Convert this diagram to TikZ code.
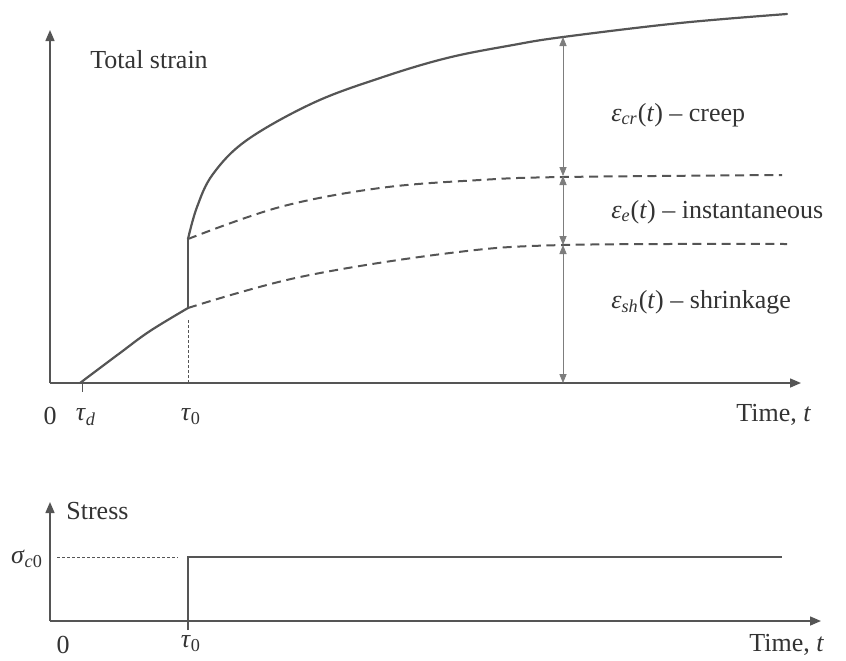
\documentclass[tikz,border=0pt]{standalone}
\usepackage{fontspec}
\setmainfont{Liberation Serif}
\usetikzlibrary{arrows.meta}
\definecolor{ink}{RGB}{85,85,85}
\definecolor{dimc}{RGB}{125,125,125}
\newcommand\gsym[2]{\textit{#1}\textsubscript{#2}}
\tikzset{
  axis/.style={draw=ink,line width=0.75pt,-{Triangle[length=5.5pt,width=4.5pt]}},
  curve/.style={draw=ink,line width=1.1pt,line cap=round},
  dcurve/.style={draw=ink,line width=1pt,dash pattern=on 4.5pt off 2.8pt},
  guide/.style={draw=ink,line width=0.4pt,dash pattern=on 1.5pt off 1pt},
  dimline/.style={draw=dimc,line width=0.4pt,{Triangle[length=4.5pt,width=3.6pt]}-{Triangle[length=4.5pt,width=3.6pt]}},
  lbl/.style={font=\fontsize{13}{15}\selectfont,text=black!80,inner sep=0pt},
}
\begin{document}
\begin{tikzpicture}[x=0.5pt,y=-0.5pt]
\useasboundingbox (0,0) rectangle (846,660);
% ---------- top diagram ----------
\coordinate (O1) at (50,383);
\coordinate (Ytop) at (50,30);
\coordinate (Xend) at (801,383);
\draw[axis] (O1) -- (Ytop);
\draw[axis] (O1) -- (Xend);
% ticks
\coordinate (td) at (82,383);
\coordinate (tdb) at (82,392);
\draw[ink,line width=0.5pt] (td) -- (tdb);
\coordinate (t0) at (188,383);
\coordinate (t0up) at (188,318);
\draw[guide] (t0) -- (t0up);
% curves
\coordinate (A) at (80,383);
\coordinate (B) at (188,308);
\coordinate (C) at (188,239);
\draw[curve] plot[smooth,tension=0.6] coordinates {(80,383) (120,353) (150,331) (188,308)};
\draw[curve] (B) -- (C);
\draw[curve] plot[smooth,tension=0.6] coordinates {(188,239) (197,207) (213,174) (247,140) (313,103) (380,78) (447,58) (513,45) (563,37) (680,23) (787,14)};
\draw[dcurve] plot[smooth,tension=0.6] coordinates {(188,239) (280,207) (380,188) (480,180) (563,177) (782,175)};
\draw[dcurve] plot[smooth,tension=0.6] coordinates {(188,308) (300,277) (450,253) (563,245) (787,244)};
% dimension arrows
\coordinate (m1) at (563,37);
\coordinate (m2) at (563,176);
\coordinate (m3) at (563,245);
\coordinate (m4) at (563,383);
\draw[dimline] (m1) -- (m2);
\draw[dimline] (m2) -- (m3);
\draw[dimline] (m3) -- (m4);
% labels
\node[lbl,anchor=west] (ts) at (90,60) {Total strain};
\node[lbl,anchor=west] (cr) at (611,115) {\textit{ε}\textsubscript{\textit{cr}}(\textit{t}) – creep};
\node[lbl,anchor=west] (el) at (611,212) {\textit{ε}\textsubscript{\textit{e}}(\textit{t}) – instantaneous};
\node[lbl,anchor=west] (sh) at (611,302) {\textit{ε}\textsubscript{\textit{sh}}(\textit{t}) – shrinkage};
\node[lbl] (z1) at (50,416) {0};
\node[lbl] (tdl) at (86,417) {\textit{τ}\textsubscript{\textit{d}}};
\node[lbl] (t0l) at (191,417) {\gsym{τ}{0}};
\node[lbl,anchor=west] (tt1) at (736,415) {Time, \textit{t}};
% ---------- bottom diagram ----------
\coordinate (O2) at (50,621);
\coordinate (Y2top) at (50,502);
\coordinate (X2end) at (821,621);
\draw[axis] (O2) -- (Y2top);
\draw[axis] (O2) -- (X2end);
\coordinate (s0) at (188,630);
\coordinate (s1) at (188,557);
\coordinate (s2) at (782,557);
\draw[curve,line cap=butt] (s0) -- (s1) -- (s2);
\coordinate (g1) at (57,557);
\coordinate (g2) at (178,557);
\draw[guide] (g1) -- (g2);
\node[lbl,anchor=west] (st) at (66,511) {Stress};
\node[lbl] (sig) at (27,559) {\textit{σ}\textsubscript{\textit{c}0}};
\node[lbl] (z2) at (63,645) {0};
\node[lbl] (t0b) at (191,644) {\gsym{τ}{0}};
\node[lbl,anchor=west] (tt2) at (749,645) {Time, \textit{t}};
\end{tikzpicture}
\end{document}
